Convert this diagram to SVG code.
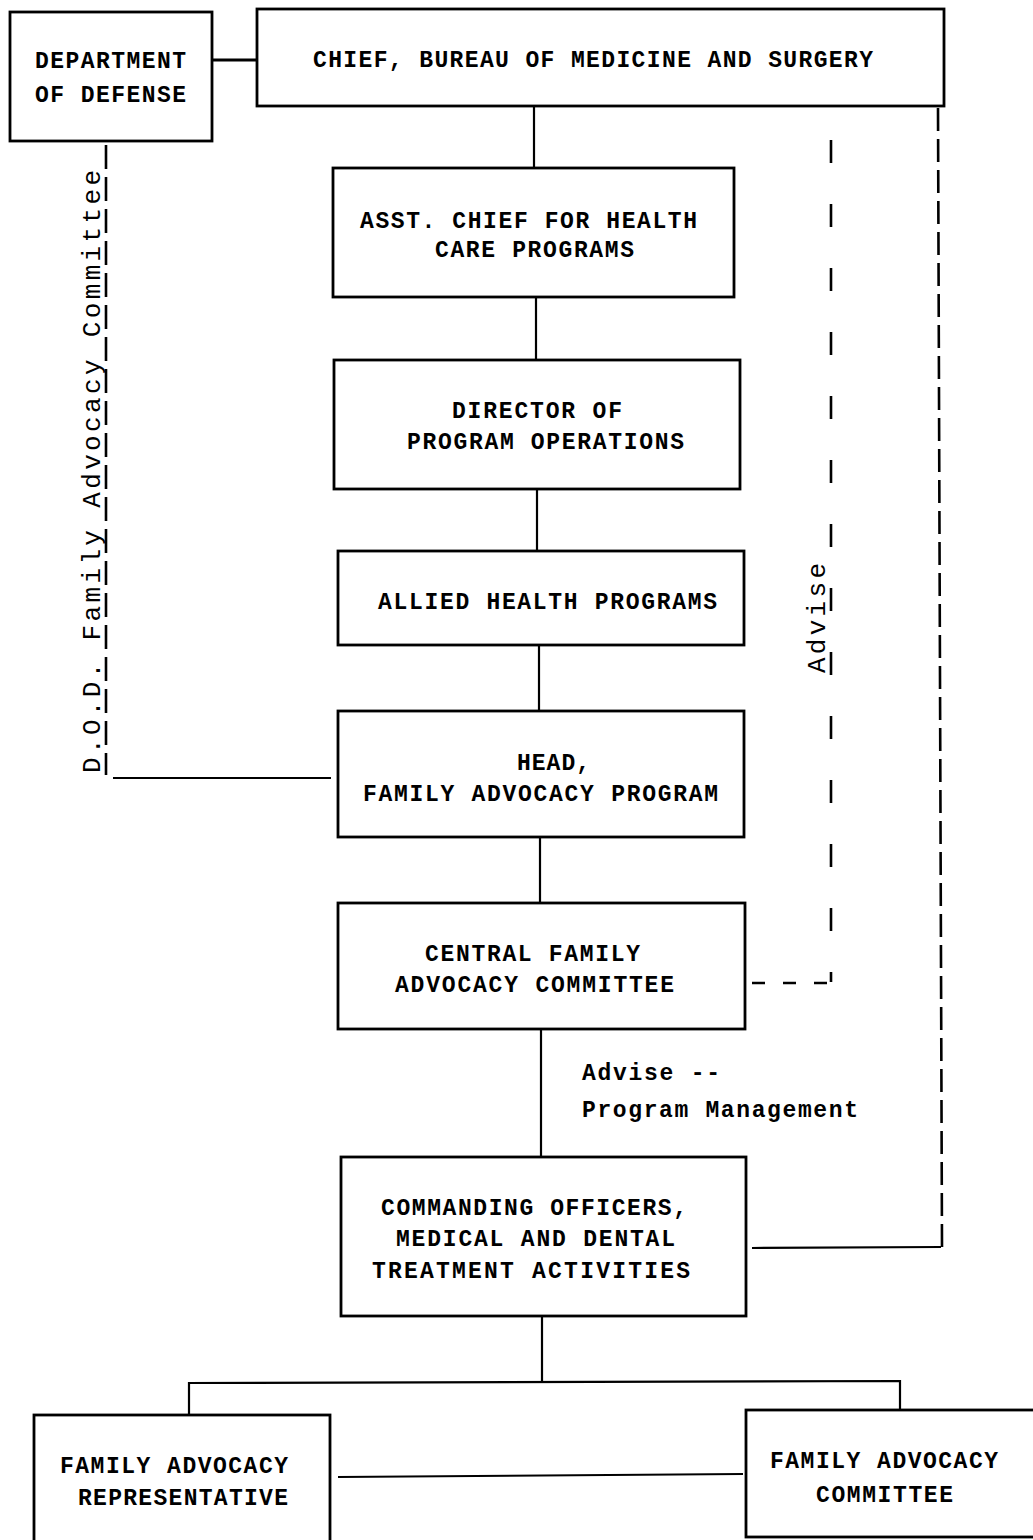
<svg xmlns="http://www.w3.org/2000/svg" width="1033" height="1540" viewBox="0 0 1033 1540">
<style>
.box{fill:#fff;stroke:#000;stroke-width:2.8}
.ln{stroke:#000;stroke-width:2.2;fill:none}
.dash{stroke:#000;stroke-width:2.6;fill:none}
.t{font-family:"Liberation Mono","DejaVu Sans Mono",monospace;font-weight:bold;font-size:23px;fill:#000}
.v{font-family:"Liberation Mono","DejaVu Sans Mono",monospace;font-size:26px;fill:#000}
</style>
<rect width="1033" height="1540" fill="#fff"/>
<g id="connectors">
<line class="ln" x1="212" y1="60" x2="257" y2="60" style="stroke-width:3"/>
<line class="ln" x1="534" y1="106" x2="534" y2="168"/>
<line class="ln" x1="536" y1="297" x2="536" y2="360"/>
<line class="ln" x1="537" y1="489" x2="537" y2="551"/>
<line class="ln" x1="539" y1="645" x2="539" y2="711"/>
<line class="ln" x1="540" y1="837" x2="540" y2="903"/>
<line class="ln" x1="541" y1="1029" x2="541" y2="1157"/>
<line class="ln" x1="542" y1="1316" x2="542" y2="1383"/>
<polyline class="ln" points="189,1415 189,1383 900,1381 900,1410"/>
<line class="ln" x1="338" y1="1477" x2="743" y2="1474"/>
<line class="dash" x1="106" y1="145" x2="106" y2="775" stroke-dasharray="24 8"/>
<line class="ln" x1="113" y1="778" x2="331" y2="778"/>
<line class="dash" x1="831" y1="140" x2="831" y2="982" stroke-dasharray="23 41"/>
<line class="dash" x1="752" y1="983" x2="831" y2="983" stroke-dasharray="13 18"/>
<line class="dash" x1="938" y1="108" x2="942" y2="1247" stroke-dasharray="23 8"/>
<line class="ln" x1="752" y1="1248" x2="941" y2="1247"/>
<text class="v" transform="translate(100,773) rotate(-90)" textLength="603" lengthAdjust="spacing">D.O.D. Family Advocacy Committee</text>
<text class="v" transform="translate(825,673) rotate(-90)" textLength="110" lengthAdjust="spacing">Advise</text>
<text class="t" x="582" y="1080" textLength="138" lengthAdjust="spacing">Advise --</text>
<text class="t" x="582" y="1117" textLength="276" lengthAdjust="spacing">Program Management</text>
</g>
<g id="dod">
<rect class="box" x="10" y="12" width="202" height="129"/>
<text class="t" x="35" y="68" textLength="151" lengthAdjust="spacing">DEPARTMENT</text>
<text class="t" x="35" y="102" textLength="151" lengthAdjust="spacing">OF DEFENSE</text>
</g>
<g id="chief">
<rect class="box" x="257" y="9" width="687" height="97"/>
<text class="t" x="313" y="67" textLength="560" lengthAdjust="spacing">CHIEF, BUREAU OF MEDICINE AND SURGERY</text>
</g>
<g id="asst">
<rect class="box" x="333" y="168" width="401" height="129"/>
<text class="t" x="360" y="228" textLength="337" lengthAdjust="spacing">ASST. CHIEF FOR HEALTH</text>
<text class="t" x="435" y="257" textLength="199" lengthAdjust="spacing">CARE PROGRAMS</text>
</g>
<g id="director">
<rect class="box" x="334" y="360" width="406" height="129"/>
<text class="t" x="452" y="418" textLength="170" lengthAdjust="spacing">DIRECTOR OF</text>
<text class="t" x="407" y="449" textLength="277" lengthAdjust="spacing">PROGRAM OPERATIONS</text>
</g>
<g id="allied">
<rect class="box" x="338" y="551" width="406" height="94"/>
<text class="t" x="378" y="609" textLength="339" lengthAdjust="spacing">ALLIED HEALTH PROGRAMS</text>
</g>
<g id="head">
<rect class="box" x="338" y="711" width="406" height="126"/>
<text class="t" x="517" y="770" textLength="73" lengthAdjust="spacing">HEAD,</text>
<text class="t" x="363" y="801" textLength="355" lengthAdjust="spacing">FAMILY ADVOCACY PROGRAM</text>
</g>
<g id="central">
<rect class="box" x="338" y="903" width="407" height="126"/>
<text class="t" x="425" y="961" textLength="215" lengthAdjust="spacing">CENTRAL FAMILY</text>
<text class="t" x="395" y="992" textLength="279" lengthAdjust="spacing">ADVOCACY COMMITTEE</text>
</g>
<g id="commanding">
<rect class="box" x="341" y="1157" width="405" height="159"/>
<text class="t" x="381" y="1215" textLength="306" lengthAdjust="spacing">COMMANDING OFFICERS,</text>
<text class="t" x="396" y="1246" textLength="279" lengthAdjust="spacing">MEDICAL AND DENTAL</text>
<text class="t" x="372" y="1278" textLength="318" lengthAdjust="spacing">TREATMENT ACTIVITIES</text>
</g>
<g id="representative">
<rect class="box" x="34" y="1415" width="296" height="140"/>
<text class="t" x="60" y="1473" textLength="228" lengthAdjust="spacing">FAMILY ADVOCACY</text>
<text class="t" x="78" y="1505" textLength="210" lengthAdjust="spacing">REPRESENTATIVE</text>
</g>
<g id="committee">
<rect class="box" x="746" y="1410" width="300" height="127"/>
<text class="t" x="770" y="1468" textLength="228" lengthAdjust="spacing">FAMILY ADVOCACY</text>
<text class="t" x="816" y="1502" textLength="137" lengthAdjust="spacing">COMMITTEE</text>
</g>
</svg>
